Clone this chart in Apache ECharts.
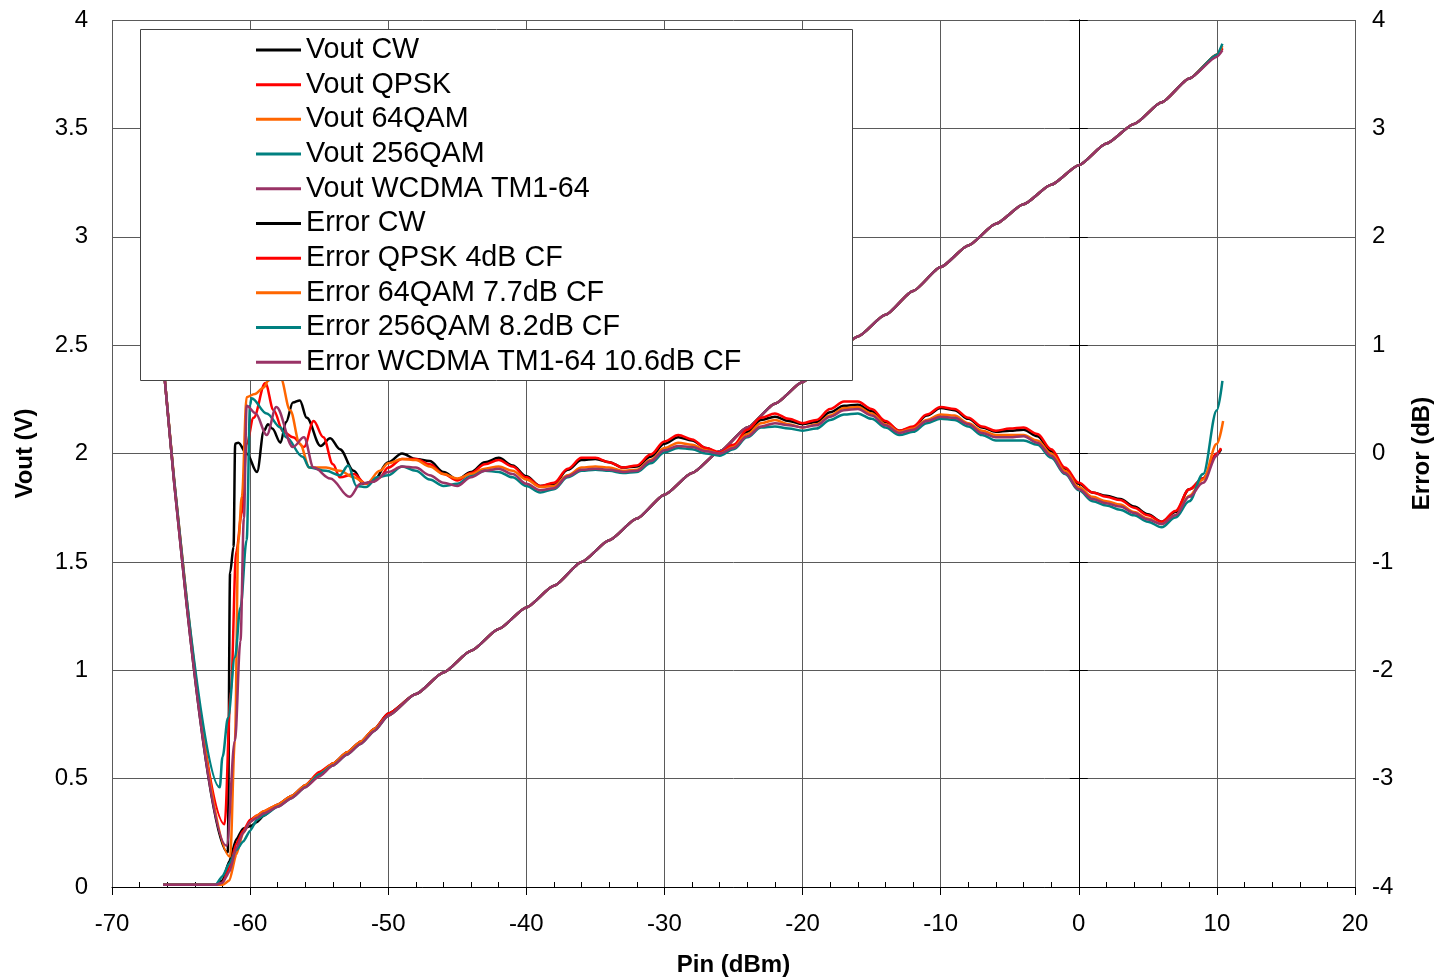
<!DOCTYPE html>
<html>
<head>
<meta charset="utf-8">
<script src="https://cdn.jsdelivr.net/npm/echarts@6/dist/echarts.min.js"></script>
<style>
html,body{margin:0;padding:0;background:#fff;overflow:hidden;}
#chart{width:1437px;height:979px;}
</style>
</head>
<body>
<div id="chart"></div>
<script>
// ---------------- DATA ----------------
const xTicks = [-70, -60, -50, -40, -30, -20, -10, 0, 10, 20];
const leftTicks = [0, 0.5, 1, 1.5, 2, 2.5, 3, 3.5, 4];
const rightTicks = [-4, -3, -2, -1, 0, 1, 2, 3, 4];

const seriesNames = ["Vout CW", "Vout QPSK", "Vout 64QAM", "Vout 256QAM", "Vout WCDMA TM1-64",
  "Error CW", "Error QPSK 4dB CF", "Error 64QAM 7.7dB CF", "Error 256QAM 8.2dB CF", "Error WCDMA TM1-64 10.6dB CF"];

// Vout (V) vs Pin (dBm)
const pinV = [-66.3,-64,-62.5,-62,-61.5,-61,-60.5,-60,-59.5,-59,
  -58,-57,-56,-55,-54,-53,-52,-51,-50,
  -48,-46,-44,-42,-40,-38,-36,-34,-32,-30,
  -28,-26,-24,-22,-20,-18,-16,-14,-12,-10,
  -8,-6,-4,-2,0,2,4,6,8,10,10.4];
const voutCW = [0.01,0.01,0.01,0.03,0.12,0.22,0.27,0.28,0.30,0.33,
  0.38,0.42,0.47,0.52,0.57,0.62,0.67,0.73,0.80,
  0.89,0.99,1.09,1.19,1.29,1.39,1.50,1.60,1.70,1.81,
  1.91,2.01,2.12,2.23,2.33,2.44,2.54,2.64,2.75,2.86,
  2.96,3.06,3.15,3.24,3.33,3.43,3.52,3.62,3.73,3.84,3.87];
const voutQPSK = [0.01,0.01,0.01,0.02,0.09,0.20,0.26,0.31,0.33,0.35,
  0.38,0.42,0.47,0.53,0.57,0.62,0.67,0.73,0.80,
  0.89,0.99,1.09,1.19,1.29,1.39,1.50,1.60,1.70,1.81,
  1.91,2.01,2.12,2.23,2.33,2.44,2.54,2.64,2.75,2.86,
  2.96,3.06,3.15,3.24,3.33,3.43,3.52,3.62,3.73,3.84,3.87];
const vout64QAM = [0.01,0.01,0.01,0.01,0.03,0.15,0.25,0.30,0.33,0.35,
  0.38,0.42,0.47,0.52,0.57,0.62,0.67,0.73,0.79,
  0.89,0.99,1.09,1.19,1.29,1.39,1.50,1.60,1.70,1.81,
  1.91,2.01,2.12,2.23,2.33,2.44,2.54,2.64,2.75,2.86,
  2.96,3.06,3.15,3.24,3.33,3.43,3.52,3.62,3.73,3.84,3.88];
const vout256QAM = [0.01,0.01,0.01,0.05,0.11,0.17,0.21,0.26,0.31,0.33,
  0.37,0.41,0.46,0.52,0.56,0.61,0.66,0.72,0.79,
  0.89,0.99,1.09,1.19,1.29,1.39,1.50,1.60,1.70,1.81,
  1.91,2.01,2.12,2.23,2.33,2.44,2.54,2.64,2.75,2.86,
  2.96,3.06,3.15,3.24,3.33,3.43,3.52,3.62,3.73,3.84,3.89];
const voutWCDMA = [0.01,0.01,0.01,0.02,0.07,0.18,0.25,0.30,0.32,0.34,
  0.37,0.41,0.46,0.51,0.56,0.61,0.66,0.72,0.79,
  0.89,0.99,1.09,1.19,1.29,1.39,1.50,1.60,1.70,1.81,
  1.91,2.01,2.12,2.23,2.33,2.44,2.54,2.64,2.75,2.86,
  2.96,3.06,3.15,3.24,3.33,3.43,3.52,3.62,3.73,3.83,3.86];

// Error (dB): low-power section (own Pin points per series)
const errCW_lowPin = [-66.3,-61.62,-61.45,-61.2,-61.08,-60.85,-60.25,-59.5,-59.0,-58.7,-58.4,-57.8,-57.4,-56.9,-56.4,-55.9,-54.9,-54.2,-53.5,-52.5,-51.8,-51.1];
const errCW_low    = [0.85,-3.68,-1.1,-0.86,0.09,0.10,0.0,-0.17,0.21,0.27,0.23,0.10,0.29,0.47,0.49,0.33,0.07,0.14,0.04,-0.16,-0.28,-0.26];
const errQPSK_lowPin = [-66.3,-61.85,-61.4,-61.0,-60.6,-60.25,-59.75,-58.9,-58.3,-57.6,-56.9,-56.1,-55.4,-54.7,-54.0,-53.5,-52.5,-51.6,-50.6];
const errQPSK_low    = [0.85,-3.42,-2.2,-0.9,-0.55,0.09,0.33,0.65,0.40,0.20,0.15,0.06,0.30,0.15,-0.10,-0.22,-0.19,-0.28,-0.22];
const err64_lowPin = [-66.3,-61.45,-61.1,-60.85,-60.6,-60.25,-59.65,-59.0,-58.7,-58.2,-57.8,-57.1,-56.4,-55.7,-54.5,-53.5,-52.5,-51.6,-50.6];
const err64_low    = [0.85,-3.72,-2.65,-0.8,-0.4,0.52,0.55,0.61,0.67,0.76,0.70,0.40,0.09,-0.13,-0.13,-0.16,-0.22,-0.28,-0.16];
const err256_lowPin = [-66.3,-62.2,-62.0,-61.6,-61.1,-60.7,-60.25,-60.0,-59.9,-58.8,-57.8,-57.4,-56.2,-55.7,-54.5,-53.5,-52.9,-52.3,-51.6,-50.8];
const err256_low    = [0.85,-3.08,-2.8,-2.44,-1.88,-1.42,-0.8,0.45,0.51,0.37,0.24,0.15,-0.03,-0.13,-0.16,-0.20,-0.11,-0.30,-0.31,-0.22];
const errW_lowPin = [-66.3,-61.7,-61.1,-60.7,-60.45,-60.25,-59.6,-58.8,-58.1,-56.9,-56.1,-55.4,-54.2,-52.8,-52.0,-51.1];
const errW_low    = [0.85,-3.62,-2.65,-1.73,-0.6,0.44,0.37,0.17,0.43,0.06,0.15,-0.13,-0.23,-0.40,-0.28,-0.26];

// Error (dB): shared Pin grid -50 .. 10 dBm, 1 dB step
const pinE = [-50,-49,-48,-47,-46,-45,-44,-43,-42,-41,
  -40,-39,-38,-37,-36,-35,-34,-33,-32,-31,
  -30,-29,-28,-27,-26,-25,-24,-23,-22,-21,
  -20,-19,-18,-17,-16,-15,-14,-13,-12,-11,
  -10,-9,-8,-7,-6,-5,-4,-3,-2,-1,
  0,1,2,3,4,5,6,7,8,9,10];
const errCW_mid = [-0.08,0.0,-0.05,-0.07,-0.17,-0.24,-0.17,-0.08,-0.04,-0.11,
  -0.21,-0.30,-0.28,-0.15,-0.06,-0.05,-0.08,-0.13,-0.12,-0.03,
  0.09,0.15,0.12,0.05,0.0,0.07,0.20,0.31,0.34,0.30,
  0.27,0.29,0.38,0.44,0.45,0.39,0.29,0.21,0.24,0.35,
  0.42,0.40,0.32,0.24,0.20,0.21,0.22,0.16,0.02,-0.14,
  -0.28,-0.36,-0.39,-0.42,-0.49,-0.56,-0.63,-0.54,-0.33,-0.23,-0.01];
const errQPSK_mid = [-0.13,-0.05,-0.05,-0.10,-0.19,-0.25,-0.18,-0.10,-0.06,-0.12,
  -0.22,-0.30,-0.27,-0.14,-0.04,-0.04,-0.08,-0.13,-0.11,-0.01,
  0.11,0.17,0.13,0.05,0.01,0.08,0.22,0.33,0.37,0.32,
  0.28,0.31,0.41,0.48,0.48,0.41,0.30,0.21,0.25,0.36,
  0.43,0.41,0.33,0.25,0.21,0.23,0.24,0.18,0.04,-0.13,
  -0.27,-0.36,-0.40,-0.43,-0.50,-0.57,-0.63,-0.53,-0.33,-0.23,0.0];
const err64_mid = [-0.09,-0.05,-0.06,-0.12,-0.19,-0.23,-0.19,-0.14,-0.12,-0.16,
  -0.24,-0.31,-0.30,-0.20,-0.13,-0.12,-0.13,-0.16,-0.15,-0.06,
  0.05,0.10,0.08,0.03,0.0,0.06,0.18,0.28,0.31,0.27,
  0.24,0.27,0.35,0.42,0.43,0.37,0.27,0.20,0.23,0.31,
  0.36,0.35,0.28,0.21,0.17,0.17,0.17,0.12,0.0,-0.16,
  -0.31,-0.40,-0.44,-0.47,-0.54,-0.60,-0.65,-0.57,-0.39,-0.24,0.09];
const err256_mid = [-0.20,-0.12,-0.16,-0.24,-0.30,-0.28,-0.21,-0.16,-0.17,-0.22,
  -0.30,-0.36,-0.33,-0.22,-0.16,-0.15,-0.16,-0.18,-0.17,-0.09,
  0.01,0.05,0.04,0.0,-0.02,0.04,0.15,0.24,0.25,0.23,
  0.21,0.23,0.31,0.36,0.37,0.32,0.24,0.17,0.20,0.28,
  0.32,0.31,0.25,0.17,0.12,0.12,0.12,0.08,-0.04,-0.19,
  -0.34,-0.44,-0.48,-0.52,-0.57,-0.63,-0.68,-0.59,-0.44,-0.19,0.40];
const errW_mid = [-0.17,-0.12,-0.13,-0.20,-0.27,-0.30,-0.22,-0.16,-0.14,-0.19,
  -0.28,-0.34,-0.32,-0.21,-0.15,-0.14,-0.15,-0.17,-0.16,-0.07,
  0.03,0.07,0.06,0.02,0.0,0.05,0.16,0.25,0.28,0.26,
  0.24,0.26,0.34,0.40,0.41,0.35,0.26,0.19,0.22,0.30,
  0.34,0.33,0.27,0.19,0.15,0.15,0.16,0.10,-0.02,-0.18,
  -0.33,-0.42,-0.46,-0.49,-0.55,-0.61,-0.65,-0.57,-0.40,-0.27,-0.02];

// Error (dB): last point of each trace
const errCW_tailPin = [10.3],   errCW_tail = [0.04];
const errQPSK_tailPin = [10.3], errQPSK_tail = [0.05];
const err64_tailPin = [10.45],  err64_tail = [0.30];
const err256_tailPin = [10.4],  err256_tail = [0.67];
const errW_tailPin = [10.1],    errW_tail = [0.01];

// ---------------- BUILD ----------------
function zip(xs, ys) { return xs.map((x, i) => [x, ys[i]]); }
function errSeries(lp, lv, mv, tp, tv) {
  return zip(lp, lv).concat(zip(pinE, mv)).concat(zip(tp, tv));
}

const colors = ['#000000', '#FF0000', '#FF6600', '#008080', '#993366'];
const FONT = "'Liberation Sans', Arial, sans-serif";

const voutData = [voutCW, voutQPSK, vout64QAM, vout256QAM, voutWCDMA].map(v => zip(pinV, v));
const errData = [
  errSeries(errCW_lowPin, errCW_low, errCW_mid, errCW_tailPin, errCW_tail),
  errSeries(errQPSK_lowPin, errQPSK_low, errQPSK_mid, errQPSK_tailPin, errQPSK_tail),
  errSeries(err64_lowPin, err64_low, err64_mid, err64_tailPin, err64_tail),
  errSeries(err256_lowPin, err256_low, err256_mid, err256_tailPin, err256_tail),
  errSeries(errW_lowPin, errW_low, errW_mid, errW_tailPin, errW_tail)
];

const series = [];
voutData.forEach((d, i) => series.push({
  name: seriesNames[i], type: 'line', xAxisIndex: 0, yAxisIndex: 0, data: d,
  showSymbol: false, smooth: 0.2, smoothMonotone: 'x',
  lineStyle: { color: colors[i], width: 2.5 }, itemStyle: { color: colors[i] }, z: 2
}));
errData.forEach((d, i) => series.push({
  name: seriesNames[5 + i], type: 'line', xAxisIndex: 0, yAxisIndex: 1, data: d,
  showSymbol: false, smooth: 0.35, smoothMonotone: 'x',
  lineStyle: { color: colors[i], width: 2.5 }, itemStyle: { color: colors[i] }, z: 2
}));

const chart = echarts.init(document.getElementById('chart'), null, { renderer: 'canvas' });
chart.setOption({
  animation: false,
  backgroundColor: '#ffffff',
  textStyle: { fontFamily: FONT },
  grid: { left: 112, right: 82, top: 20, bottom: 92, containLabel: false, outerBoundsMode: 'none' },
  xAxis: [{
    type: 'value', min: xTicks[0], max: xTicks[xTicks.length - 1], interval: 10,
    name: 'Pin (dBm)', nameLocation: 'middle', nameGap: 66,
    nameTextStyle: { fontFamily: FONT, fontSize: 24, fontWeight: 'bold', color: '#000' },
    axisLine: { show: true, onZero: false, lineStyle: { color: '#000', width: 1 } },
    axisTick: { show: true, inside: false, length: 8, lineStyle: { color: '#000' } },
    axisLabel: { fontFamily: FONT, fontSize: 24, color: '#000', margin: 25 },
    splitLine: { show: true, lineStyle: { color: '#5a5a5a', width: 1 } }
  }, {
    type: 'value', min: xTicks[0], max: xTicks[xTicks.length - 1], interval: 10, position: 'bottom',
    axisLine: { show: false }, axisLabel: { show: false },
    axisTick: { show: false, inside: true },
    minorTick: { show: true, splitNumber: 5, length: 5, lineStyle: { color: '#000', width: 1 } },
    splitLine: { show: false }
  }],
  yAxis: [{
    type: 'value', min: leftTicks[0], max: leftTicks[leftTicks.length - 1], interval: 0.5, position: 'left',
    name: 'Vout (V)', nameLocation: 'middle', nameGap: 75,
    nameTextStyle: { fontFamily: FONT, fontSize: 24, fontWeight: 'bold', color: '#000' },
    axisLine: { show: true, lineStyle: { color: '#000', width: 1 } },
    axisTick: { show: true, length: 9, lineStyle: { color: '#000' } },
    axisLabel: { fontFamily: FONT, fontSize: 24, color: '#000', margin: 24 },
    splitLine: { show: true, lineStyle: { color: '#5a5a5a', width: 1 } }
  }, {
    type: 'value', min: rightTicks[0], max: rightTicks[rightTicks.length - 1], interval: 1, position: 'right',
    name: 'Error (dB)', nameLocation: 'middle', nameGap: 55,
    nameTextStyle: { fontFamily: FONT, fontSize: 24, fontWeight: 'bold', color: '#000' },
    axisLine: { show: true, lineStyle: { color: '#000', width: 1 } },
    axisTick: { show: true, length: 9, lineStyle: { color: '#000' } },
    axisLabel: { fontFamily: FONT, fontSize: 24, color: '#000', margin: 17 },
    splitLine: { show: false }
  }],
  graphic: [{
    type: 'rect', z: 3,
    shape: { x: 140.5, y: 29.5, width: 712, height: 351 },
    style: { fill: '#ffffff', stroke: '#444', lineWidth: 1 }
  }],
  legend: {
    z: 5, orient: 'vertical', left: 256, top: 32.6, padding: 0, itemGap: 0,
    icon: 'rect', itemWidth: 45, itemHeight: 3,
    data: seriesNames.slice(),
    textStyle: { fontFamily: FONT, fontSize: 28.7, color: '#000', lineHeight: 34.7 },
    selectedMode: false
  },
  series: series
});
</script>
</body>
</html>
